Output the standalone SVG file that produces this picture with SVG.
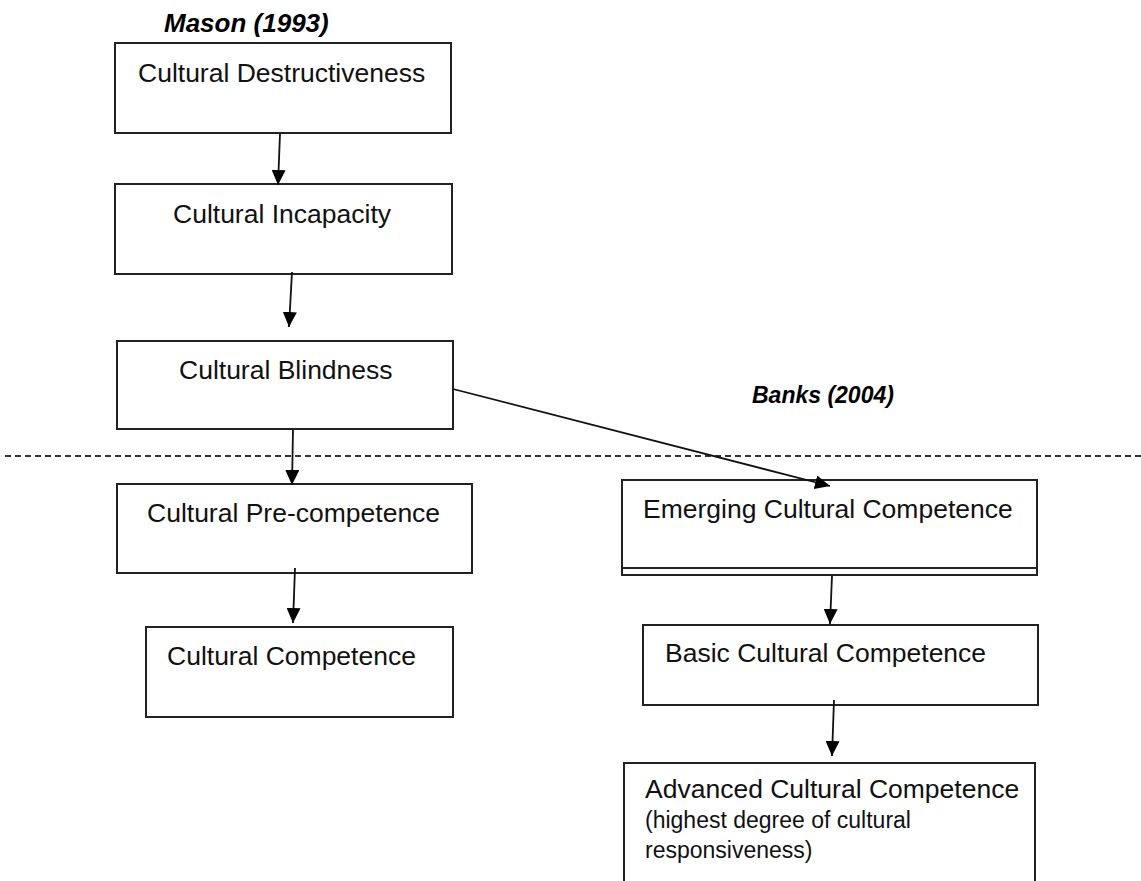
<svg xmlns="http://www.w3.org/2000/svg" width="1141" height="881" viewBox="0 0 1141 881">
<style>
.box{fill:#fff;stroke:#222;stroke-width:2}
.t{font-family:"Liberation Sans",Arial,sans-serif;font-size:26.5px;fill:#111}
.s{font-family:"Liberation Sans",Arial,sans-serif;font-size:23px;fill:#111}
.h{font-family:"Liberation Sans",Arial,sans-serif;font-weight:bold;font-style:italic;fill:#000}
.c{fill:none;stroke:#111;stroke-width:1.8}
</style>
<defs>
<marker id="ah" markerUnits="userSpaceOnUse" markerWidth="16" markerHeight="14" refX="15" refY="7" orient="auto">
<path d="M0,0 L15,7 L0,14 z" fill="#000"/>
</marker>
</defs>
<rect width="1141" height="881" fill="#fff"/>
<g id="titles">
<text class="h" x="164" y="32" font-size="26">Mason (1993)</text>
<text class="h" x="752" y="403" font-size="23">Banks (2004)</text>
</g>
<line x1="5" y1="456" x2="1141" y2="456" stroke="#333" stroke-width="2" stroke-dasharray="6 4"/>
<g id="n1"><rect class="box" x="115" y="43" width="336" height="90"/><text class="t" x="138" y="82">Cultural Destructiveness</text></g>
<g id="n2"><rect class="box" x="115" y="184" width="337" height="90"/><text class="t" x="173" y="223">Cultural Incapacity</text></g>
<g id="n3"><rect class="box" x="117" y="341" width="336" height="88"/><text class="t" x="179" y="379">Cultural Blindness</text></g>
<g id="n4"><rect class="box" x="117" y="484" width="355" height="89"/><text class="t" x="147" y="522">Cultural Pre-competence</text></g>
<g id="n5"><rect class="box" x="146" y="627" width="307" height="90"/><text class="t" x="167" y="665">Cultural Competence</text></g>
<g id="n6"><rect class="box" x="622" y="480" width="415" height="95"/><line x1="622" y1="568" x2="1037" y2="568" stroke="#222" stroke-width="2"/><text class="t" x="643" y="518">Emerging Cultural Competence</text></g>
<g id="n7"><rect class="box" x="643" y="625" width="395" height="80"/><text class="t" x="665" y="662">Basic Cultural Competence</text></g>
<g id="n8"><path class="box" d="M624,890 L624,763 L1035,763 L1035,890"/><text class="t" x="645" y="798">Advanced Cultural Competence</text><text class="s" x="645" y="828">(highest degree of cultural</text><text class="s" x="645" y="858">responsiveness)</text></g>
<g id="connectors">
<line class="c" x1="280" y1="134" x2="278" y2="185" marker-end="url(#ah)"/>
<line class="c" x1="292" y1="272" x2="289" y2="327" marker-end="url(#ah)"/>
<line class="c" x1="293" y1="430" x2="292" y2="485" marker-end="url(#ah)"/>
<line class="c" x1="295" y1="568" x2="293" y2="623" marker-end="url(#ah)"/>
<line class="c" x1="832" y1="576" x2="830" y2="624" marker-end="url(#ah)"/>
<line class="c" x1="834" y1="700" x2="832" y2="756" marker-end="url(#ah)"/>
<line class="c" x1="453" y1="389" x2="830" y2="486" marker-end="url(#ah)"/>
</g>
</svg>
